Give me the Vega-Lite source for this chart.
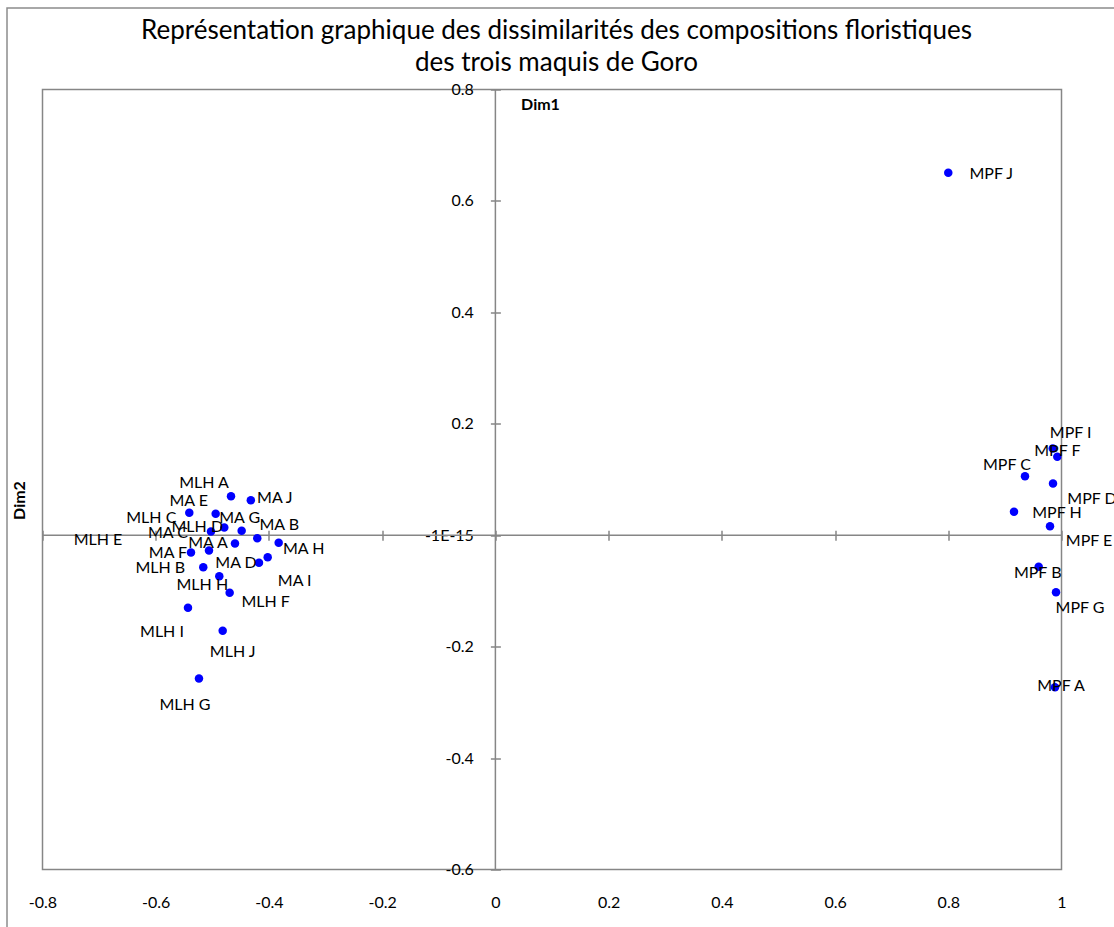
{
  "$schema": "https://vega.github.io/schema/vega-lite/v6.json",
  "width": 1019,
  "height": 780,
  "autosize": {"type": "none"},
  "padding": {"left": 42.5, "top": 89.5, "right": 52.5, "bottom": 57.5},
  "background": "white",
  "config": {
    "view": {"stroke": "#868686", "strokeWidth": 1.5, "fill": "white"},
    "font": "Lato",
    "text": {"font": "Lato", "fontSize": 16, "color": "#000000", "align": "center", "baseline": "middle"},
    "axis": {
      "labelFont": "Lato", "labelFontSize": 16, "labelColor": "#000000", "labelFlush": false, "labelOverlap": false,
      "grid": false, "domain": false, "tickColor": "#868686", "tickWidth": 1.5,
      "titleFont": "Lato", "titleFontSize": 16, "titleFontWeight": "bold", "titleColor": "#000000"
    }
  },
  "title": {
    "text": ["Représentation graphique des dissimilarités des compositions floristiques", "des trois maquis de Goro"],
    "font": "Lato", "fontSize": 26, "fontWeight": "normal", "color": "#000000",
    "anchor": "middle", "frame": "group", "dx": 4.5, "dy": 69, "offset": 0, "lineHeight": 32
  },
  "resolve": {"axis": {"x": "independent", "y": "independent"}},
  "data": {"values": [
    {"label": "MLH A", "Dim1": -0.467, "Dim2": 0.070},
    {"label": "MLH B", "Dim1": -0.516, "Dim2": -0.0574},
    {"label": "MLH C", "Dim1": -0.5407, "Dim2": 0.0402},
    {"label": "MLH D", "Dim1": -0.4789, "Dim2": 0.0138},
    {"label": "MLH E", "Dim1": -0.5059, "Dim2": -0.0275},
    {"label": "MLH F", "Dim1": -0.4694, "Dim2": -0.1034},
    {"label": "MLH G", "Dim1": -0.5236, "Dim2": -0.2572},
    {"label": "MLH H", "Dim1": -0.4877, "Dim2": -0.0736},
    {"label": "MLH I", "Dim1": -0.543, "Dim2": -0.1303},
    {"label": "MLH J", "Dim1": -0.4817, "Dim2": -0.1716},
    {"label": "MA A", "Dim1": -0.46, "Dim2": -0.0149},
    {"label": "MA B", "Dim1": -0.4206, "Dim2": -0.0054},
    {"label": "MA C", "Dim1": -0.5024, "Dim2": 0.0066},
    {"label": "MA D", "Dim1": -0.4176, "Dim2": -0.0495},
    {"label": "MA E", "Dim1": -0.4941, "Dim2": 0.0384},
    {"label": "MA F", "Dim1": -0.5377, "Dim2": -0.0311},
    {"label": "MA G", "Dim1": -0.4482, "Dim2": 0.0079},
    {"label": "MA H", "Dim1": -0.3828, "Dim2": -0.0136},
    {"label": "MA I", "Dim1": -0.4022, "Dim2": -0.0395},
    {"label": "MA J", "Dim1": -0.432, "Dim2": 0.0628},
    {"label": "MPF A", "Dim1": 0.9885, "Dim2": -0.2728},
    {"label": "MPF B", "Dim1": 0.9597, "Dim2": -0.0567},
    {"label": "MPF C", "Dim1": 0.9355, "Dim2": 0.1059},
    {"label": "MPF D", "Dim1": 0.985, "Dim2": 0.0928},
    {"label": "MPF E", "Dim1": 0.9797, "Dim2": 0.0162},
    {"label": "MPF F", "Dim1": 0.9926, "Dim2": 0.1407},
    {"label": "MPF G", "Dim1": 0.9903, "Dim2": -0.1023},
    {"label": "MPF H", "Dim1": 0.9161, "Dim2": 0.042},
    {"label": "MPF I", "Dim1": 0.9845, "Dim2": 0.1556},
    {"label": "MPF J", "Dim1": 0.800, "Dim2": 0.6505}
  ]},
  "layer": [
    {
      "data": {"values": [{}]},
      "mark": {"type": "rect", "fillOpacity": 0, "stroke": "#8c8c8c", "strokeWidth": 1.5, "clip": false},
      "encoding": {
        "x": {"datum": -0.8627, "type": "quantitative", "scale": {"domain": [-0.8, 1], "nice": false, "zero": false}, "axis": null},
        "x2": {"datum": 1.2},
        "y": {"datum": 0.9463, "type": "quantitative", "scale": {"domain": [-0.6, 0.8], "nice": false, "zero": false}, "axis": null},
        "y2": {"datum": -0.75}
      }
    },
    {
      "data": {"values": [{}]},
      "mark": {"type": "rule", "color": "#868686", "strokeWidth": 1.5},
      "encoding": {
        "y": {"datum": 0, "type": "quantitative", "scale": {"domain": [-0.6, 0.8], "nice": false, "zero": false}, "axis": null}
      }
    },
    {
      "data": {"values": [{}]},
      "mark": {"type": "rule", "color": "#868686", "strokeWidth": 1.5},
      "encoding": {
        "x": {"datum": 0, "type": "quantitative", "scale": {"domain": [-0.8, 1], "nice": false, "zero": false}, "axis": null}
      }
    },
    {
      "mark": {"type": "point", "filled": true, "shape": "circle", "size": 72, "color": "#0000FF", "opacity": 1},
      "encoding": {
        "x": {"field": "Dim1", "type": "quantitative", "scale": {"domain": [-0.8, 1], "nice": false, "zero": false},
          "axis": {"orient": "bottom", "values": [-0.8, -0.6, -0.4, -0.2, 0, 0.2, 0.4, 0.6, 0.8, 1], "ticks": false, "tickSize": 0, "labelPadding": 25,
            "labelExpr": "abs(datum.value) < 1e-9 ? '0' : (datum.value < 0 ? '-' + format(-datum.value, '.1~f') : format(datum.value, '.1~f'))",
            "title": "Dim1", "titleX": 497.5, "titleY": -765.5, "titleAlign": "center", "titleBaseline": "middle", "titleAngle": 0}},
        "y": {"field": "Dim2", "type": "quantitative", "scale": {"domain": [-0.6, 0.8], "nice": false, "zero": false},
          "axis": {"orient": "left", "offset": {"expr": "-(scale('x', 0) + 5)"}, "values": [-0.6, -0.4, -0.2, 0, 0.2, 0.4, 0.6, 0.8], "ticks": true, "tickSize": 10, "labelPadding": 17,
            "labelExpr": "abs(datum.value) < 1e-9 ? '-1E-15' : (datum.value < 0 ? '-' + format(-datum.value, '.1~f') : format(datum.value, '.1~f'))",
            "title": "Dim2", "titleX": -480.4, "titleY": 410.5, "titleAngle": 270, "titleAlign": "center", "titleBaseline": "middle"}}
      }
    },
    {
      "transform": [{"filter": {"field": "label", "oneOf": ["MLH A", "MA E"]}}],
      "mark": {"type": "text", "dx": -27, "dy": -13},
      "encoding": {
        "x": {"field": "Dim1", "type": "quantitative", "scale": {"domain": [-0.8, 1], "nice": false, "zero": false},
          "axis": {"orient": "top", "offset": {"expr": "-(scale('y', 0) + 5)"}, "values": [-0.8, -0.6, -0.4, -0.2, 0, 0.2, 0.4, 0.6, 0.8, 1], "labels": false, "ticks": true, "tickSize": 10, "title": null}},
        "y": {"field": "Dim2", "type": "quantitative", "scale": {"domain": [-0.6, 0.8], "nice": false, "zero": false}, "axis": null},
        "text": {"field": "label"}
      }
    },
    {"transform": [{"filter": {"field": "label", "oneOf": ["MLH D", "MA A"]}}], "mark": {"type": "text", "dx": -27, "dy": -1},
     "encoding": {"x": {"field": "Dim1", "type": "quantitative", "axis": null}, "y": {"field": "Dim2", "type": "quantitative", "axis": null}, "text": {"field": "label"}}},
    {"transform": [{"filter": {"field": "label", "oneOf": ["MA D", "MA F"]}}], "mark": {"type": "text", "dx": -23, "dy": 0},
     "encoding": {"x": {"field": "Dim1", "type": "quantitative", "axis": null}, "y": {"field": "Dim2", "type": "quantitative", "axis": null}, "text": {"field": "label"}}},
    {"transform": [{"filter": {"field": "label", "oneOf": ["MA C", "MLH B"]}}], "mark": {"type": "text", "dx": -43, "dy": 1},
     "encoding": {"x": {"field": "Dim1", "type": "quantitative", "axis": null}, "y": {"field": "Dim2", "type": "quantitative", "axis": null}, "text": {"field": "label"}}},
    {"transform": [{"filter": {"field": "label", "oneOf": ["MLH C"]}}], "mark": {"type": "text", "dx": -38, "dy": 5},
     "encoding": {"x": {"field": "Dim1", "type": "quantitative", "axis": null}, "y": {"field": "Dim2", "type": "quantitative", "axis": null}, "text": {"field": "label"}}},
    {"transform": [{"filter": {"field": "label", "oneOf": ["MA J"]}}], "mark": {"type": "text", "dx": 24, "dy": -2},
     "encoding": {"x": {"field": "Dim1", "type": "quantitative", "axis": null}, "y": {"field": "Dim2", "type": "quantitative", "axis": null}, "text": {"field": "label"}}},
    {"transform": [{"filter": {"field": "label", "oneOf": ["MA H"]}}], "mark": {"type": "text", "dx": 25, "dy": 6},
     "encoding": {"x": {"field": "Dim1", "type": "quantitative", "axis": null}, "y": {"field": "Dim2", "type": "quantitative", "axis": null}, "text": {"field": "label"}}},
    {"transform": [{"filter": {"field": "label", "oneOf": ["MA G"]}}], "mark": {"type": "text", "dx": -2, "dy": -13},
     "encoding": {"x": {"field": "Dim1", "type": "quantitative", "axis": null}, "y": {"field": "Dim2", "type": "quantitative", "axis": null}, "text": {"field": "label"}}},
    {"transform": [{"filter": {"field": "label", "oneOf": ["MA B"]}}], "mark": {"type": "text", "dx": 22, "dy": -13},
     "encoding": {"x": {"field": "Dim1", "type": "quantitative", "axis": null}, "y": {"field": "Dim2", "type": "quantitative", "axis": null}, "text": {"field": "label"}}},
    {"transform": [{"filter": {"field": "label", "oneOf": ["MLH E"]}}], "mark": {"type": "text", "dx": -111, "dy": -11},
     "encoding": {"x": {"field": "Dim1", "type": "quantitative", "axis": null}, "y": {"field": "Dim2", "type": "quantitative", "axis": null}, "text": {"field": "label"}}},
    {"transform": [{"filter": {"field": "label", "oneOf": ["MA I"]}}], "mark": {"type": "text", "dx": 27, "dy": 24},
     "encoding": {"x": {"field": "Dim1", "type": "quantitative", "axis": null}, "y": {"field": "Dim2", "type": "quantitative", "axis": null}, "text": {"field": "label"}}},
    {"transform": [{"filter": {"field": "label", "oneOf": ["MLH H"]}}], "mark": {"type": "text", "dx": -17, "dy": 9},
     "encoding": {"x": {"field": "Dim1", "type": "quantitative", "axis": null}, "y": {"field": "Dim2", "type": "quantitative", "axis": null}, "text": {"field": "label"}}},
    {"transform": [{"filter": {"field": "label", "oneOf": ["MLH F"]}}], "mark": {"type": "text", "dx": 36, "dy": 9},
     "encoding": {"x": {"field": "Dim1", "type": "quantitative", "axis": null}, "y": {"field": "Dim2", "type": "quantitative", "axis": null}, "text": {"field": "label"}}},
    {"transform": [{"filter": {"field": "label", "oneOf": ["MLH I"]}}], "mark": {"type": "text", "dx": -26, "dy": 24},
     "encoding": {"x": {"field": "Dim1", "type": "quantitative", "axis": null}, "y": {"field": "Dim2", "type": "quantitative", "axis": null}, "text": {"field": "label"}}},
    {"transform": [{"filter": {"field": "label", "oneOf": ["MLH J"]}}], "mark": {"type": "text", "dx": 10, "dy": 21},
     "encoding": {"x": {"field": "Dim1", "type": "quantitative", "axis": null}, "y": {"field": "Dim2", "type": "quantitative", "axis": null}, "text": {"field": "label"}}},
    {"transform": [{"filter": {"field": "label", "oneOf": ["MLH G"]}}], "mark": {"type": "text", "dx": -14, "dy": 26},
     "encoding": {"x": {"field": "Dim1", "type": "quantitative", "axis": null}, "y": {"field": "Dim2", "type": "quantitative", "axis": null}, "text": {"field": "label"}}},
    {"transform": [{"filter": {"field": "label", "oneOf": ["MPF J", "MPF H"]}}], "mark": {"type": "text", "dx": 43, "dy": 1},
     "encoding": {"x": {"field": "Dim1", "type": "quantitative", "axis": null}, "y": {"field": "Dim2", "type": "quantitative", "axis": null}, "text": {"field": "label"}}},
    {"transform": [{"filter": {"field": "label", "oneOf": ["MPF I"]}}], "mark": {"type": "text", "dx": 18, "dy": -16},
     "encoding": {"x": {"field": "Dim1", "type": "quantitative", "axis": null}, "y": {"field": "Dim2", "type": "quantitative", "axis": null}, "text": {"field": "label"}}},
    {"transform": [{"filter": {"field": "label", "oneOf": ["MPF F"]}}], "mark": {"type": "text", "dx": 0, "dy": -6},
     "encoding": {"x": {"field": "Dim1", "type": "quantitative", "axis": null}, "y": {"field": "Dim2", "type": "quantitative", "axis": null}, "text": {"field": "label"}}},
    {"transform": [{"filter": {"field": "label", "oneOf": ["MPF C"]}}], "mark": {"type": "text", "dx": -18, "dy": -11},
     "encoding": {"x": {"field": "Dim1", "type": "quantitative", "axis": null}, "y": {"field": "Dim2", "type": "quantitative", "axis": null}, "text": {"field": "label"}}},
    {"transform": [{"filter": {"field": "label", "oneOf": ["MPF D", "MPF E"]}}], "mark": {"type": "text", "dx": 39, "dy": 15},
     "encoding": {"x": {"field": "Dim1", "type": "quantitative", "axis": null}, "y": {"field": "Dim2", "type": "quantitative", "axis": null}, "text": {"field": "label"}}},
    {"transform": [{"filter": {"field": "label", "oneOf": ["MPF B"]}}], "mark": {"type": "text", "dx": -1, "dy": 6},
     "encoding": {"x": {"field": "Dim1", "type": "quantitative", "axis": null}, "y": {"field": "Dim2", "type": "quantitative", "axis": null}, "text": {"field": "label"}}},
    {"transform": [{"filter": {"field": "label", "oneOf": ["MPF G"]}}], "mark": {"type": "text", "dx": 24, "dy": 16},
     "encoding": {"x": {"field": "Dim1", "type": "quantitative", "axis": null}, "y": {"field": "Dim2", "type": "quantitative", "axis": null}, "text": {"field": "label"}}},
    {"transform": [{"filter": {"field": "label", "oneOf": ["MPF A"]}}], "mark": {"type": "text", "dx": 6, "dy": -1},
     "encoding": {"x": {"field": "Dim1", "type": "quantitative", "axis": null}, "y": {"field": "Dim2", "type": "quantitative", "axis": null}, "text": {"field": "label"}}}
  ]
}
